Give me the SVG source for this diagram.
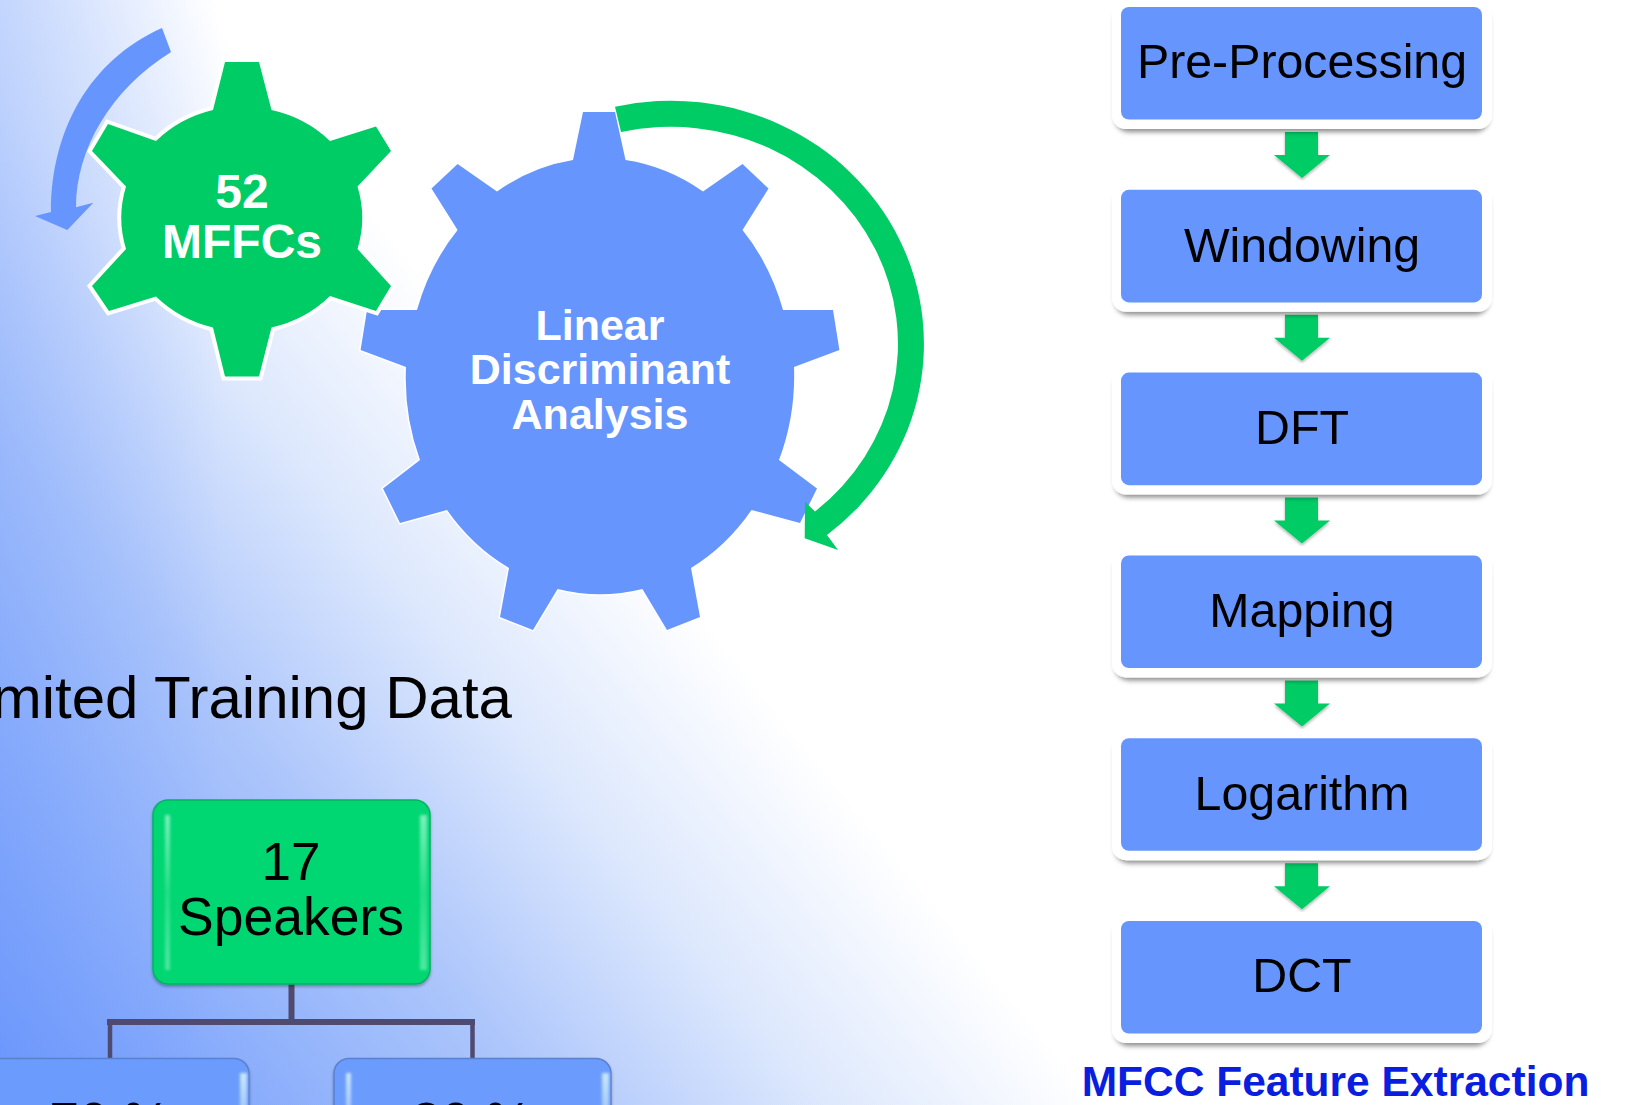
<svg xmlns="http://www.w3.org/2000/svg" width="1630" height="1105" viewBox="0 0 1630 1105">
<defs>
<linearGradient id="bg" gradientUnits="userSpaceOnUse" x1="0" y1="1105" x2="661" y2="566">
<stop offset="0" stop-color="#6a96fc"/><stop offset="0.5" stop-color="#adc6fb"/><stop offset="0.75" stop-color="#dde8fd"/><stop offset="1" stop-color="#ffffff"/>
</linearGradient>
<linearGradient id="bgLeft" gradientUnits="userSpaceOnUse" x1="0" y1="0" x2="220" y2="0">
<stop offset="0" stop-color="#6a96fc" stop-opacity="0.28"/><stop offset="1" stop-color="#6a96fc" stop-opacity="0"/>
</linearGradient>
<linearGradient id="hlGrad" x1="0" y1="0" x2="0" y2="1">
<stop offset="0" stop-color="#8ff5c8" stop-opacity="0.85"/><stop offset="0.5" stop-color="#8ff5c8" stop-opacity="0.25"/><stop offset="1" stop-color="#8ff5c8" stop-opacity="0.55"/>
</linearGradient>
<linearGradient id="hlBlue" x1="0" y1="0" x2="0" y2="1">
<stop offset="0" stop-color="#d4f0ff" stop-opacity="0.9"/><stop offset="1" stop-color="#d4f0ff" stop-opacity="0.5"/>
</linearGradient>
<filter id="sh" x="-5%" y="-10%" width="110%" height="125%">
<feMorphology in="SourceAlpha" operator="erode" radius="3" result="e"/>
<feOffset in="e" dy="6" result="o"/>
<feGaussianBlur in="o" stdDeviation="2.5" result="b"/>
<feFlood flood-color="#000" flood-opacity="0.45"/>
<feComposite in2="b" operator="in" result="s"/>
<feMerge><feMergeNode in="s"/><feMergeNode in="SourceGraphic"/></feMerge>
</filter>
<filter id="soft" x="-10%" y="-10%" width="120%" height="125%"><feDropShadow dx="0" dy="2" stdDeviation="1.5" flood-color="#000" flood-opacity="0.3"/></filter>
<filter id="blur1" x="-100%" y="-10%" width="300%" height="120%"><feGaussianBlur stdDeviation="1.800"/></filter>
</defs>
<style>
.t{font-family:"Liberation Sans",Arial,sans-serif;text-anchor:middle}
.step{font-size:48.3px;fill:#000}
.gw{font-weight:700;fill:#fff}
.inner{fill:#6595fd}
.outer{fill:#fff;filter:url(#sh)}
.arr{fill:#00cc66}
.dn{fill:#00cc66;filter:url(#soft)}
.conn{fill:none;stroke:#4f4a70}
.bx{filter:url(#soft);stroke-width:1.500}
.hlG{fill:url(#hlGrad);filter:url(#blur1)}
.hlB{fill:url(#hlBlue);filter:url(#blur1)}
</style>
<rect width="1630" height="1105" fill="url(#bg)"/>
<rect width="220" height="1105" fill="url(#bgLeft)"/>
<text id="title" class="t" x="512" y="718" style="text-anchor:end;font-size:60px" fill="#000">mited Training Data</text>
<g id="connectors">
<path class="conn" stroke-width="6" d="M291.500,984V1022M107,1022H475"/>
<path class="conn" stroke-width="4.500" d="M110,1022V1058M472.500,1022V1058"/>
<path class="dn" d="M1285,132h33v23h12l-28,23l-28,-23h11z"/>
<path class="dn" d="M1285,314.800h33v23h12l-28,23l-28,-23h11z"/>
<path class="dn" d="M1285,497.600h33v23h12l-28,23l-28,-23h11z"/>
<path class="dn" d="M1285,680.400h33v23h12l-28,23l-28,-23h11z"/>
<path class="dn" d="M1285,863.200h33v23h12l-28,23l-28,-23h11z"/>
</g>
<g id="gear-lda">
<path fill="#6595fd" stroke="#fff" stroke-width="3" paint-order="stroke" d="M583,112H615L625.500,160A194,217 0 0 1 703,191.500L742.500,164L768.500,188.600L742.500,230A194,217 0 0 1 783,310H833L839.400,350L794,367A194,217 0 0 1 779,460L817,488.400L800,523L751.500,510A194,217 0 0 1 691,568L700,617L667,630L642.400,589A194,217 0 0 1 557.600,589L533,630L500,617L509,568A194,217 0 0 1 447,510L400,523L383,488.400L420,460A194,217 0 0 1 406,367L360.600,350L367,310H417A194,217 0 0 1 457.600,230L431.500,188.600L457.600,164L497,191.500A194,217 0 0 1 573,160Z"/>
<text class="t gw" x="600" y="340" font-size="43">Linear</text>
<text class="t gw" x="600" y="384" font-size="43">Discriminant</text>
<text class="t gw" x="600" y="428.500" font-size="43">Analysis</text>
</g>
<g id="gear-mfcc">
<path fill="#00cc66" stroke="#fff" stroke-width="8" paint-order="stroke" d="M225,62H259L271.500,110A120,113 0 0 1 330,141L376,126.500L391,151L357.500,186.500A120,113 0 0 1 357.500,249L391,286L376,311L330,296A120,113 0 0 1 271.500,327.500L259,376.500H225L213,327.500A120,113 0 0 1 156,296.500L109,311L92,286L126,249A120,113 0 0 1 126,186.500L92,151L108,124L156,141A120,113 0 0 1 213,110Z"/>
<text class="t gw" x="242" y="208" font-size="48">52</text>
<text class="t gw" x="242" y="258" font-size="48">MFFCs</text>
</g>
<g id="arc-green"><path class="arr" d="M615,106.770A253,243 0 0 1 827,535.020L838,550L804.700,538.300L805,501.700L815,511.460A227,217 0 0 0 621,132.070Z"/></g>
<g id="arc-blue"><path fill="#6595fd" d="M162,28C90,60 51,130 51,212L35,216L67.300,230L93.300,202.700L76,207.300C76,150 110,90 171,52Z"/></g>
<g id="box-speakers">
<rect class="bx" x="153" y="800" width="277" height="184" rx="15" fill="#00d672" stroke="#06b463"/>
<rect class="hlG" x="165" y="815" width="5" height="155"/>
<rect class="hlG" x="420" y="815" width="7" height="155"/>
<text class="t" x="291" y="880" font-size="53">17</text>
<text class="t" x="291" y="935" font-size="53.500">Speakers</text>
</g>
<g id="box-left">
<rect class="bx" x="-28" y="1058.500" width="277" height="184" rx="15" fill="#6b9bfd" stroke="#5a80d0"/>
<rect class="hlB" x="240" y="1073" width="7" height="40"/>
<text class="t" x="110" y="1140" font-size="53">70 %</text>
</g>
<g id="box-right">
<rect class="bx" x="334" y="1058.500" width="277" height="184" rx="15" fill="#6b9bfd" stroke="#5a80d0"/>
<rect class="hlB" x="346" y="1073" width="5" height="40"/>
<rect class="hlB" x="602" y="1073" width="7" height="40"/>
<text class="t" x="472" y="1140" font-size="53">30 %</text>
</g>
<g id="step-pre"><rect class="outer" x="1112" y="-2" width="380" height="131" rx="14"/><rect class="inner" x="1121" y="7" width="361" height="112.600" rx="8"/><text class="t step" x="1302" y="78">Pre-Processing</text></g>
<g id="step-win"><rect class="outer" x="1112" y="180.800" width="380" height="131" rx="14"/><rect class="inner" x="1121" y="189.800" width="361" height="112.600" rx="8"/><text class="t step" x="1302" y="261.500">Windowing</text></g>
<g id="step-dft"><rect class="outer" x="1112" y="363.600" width="380" height="131" rx="14"/><rect class="inner" x="1121" y="372.600" width="361" height="112.600" rx="8"/><text class="t step" x="1302" y="443.500">DFT</text></g>
<g id="step-map"><rect class="outer" x="1112" y="546.400" width="380" height="131" rx="14"/><rect class="inner" x="1121" y="555.400" width="361" height="112.600" rx="8"/><text class="t step" x="1302" y="626.500">Mapping</text></g>
<g id="step-log"><rect class="outer" x="1112" y="729.200" width="380" height="131" rx="14"/><rect class="inner" x="1121" y="738.200" width="361" height="112.600" rx="8"/><text class="t step" x="1302" y="809.500">Logarithm</text></g>
<g id="step-dct"><rect class="outer" x="1112" y="912" width="380" height="131" rx="14"/><rect class="inner" x="1121" y="921" width="361" height="112.600" rx="8"/><text class="t step" x="1302" y="992">DCT</text></g>
<text id="caption" class="t" x="1335.500" y="1096" font-size="42.500" font-weight="700" fill="#0a1ee0">MFCC Feature Extraction</text>
</svg>
